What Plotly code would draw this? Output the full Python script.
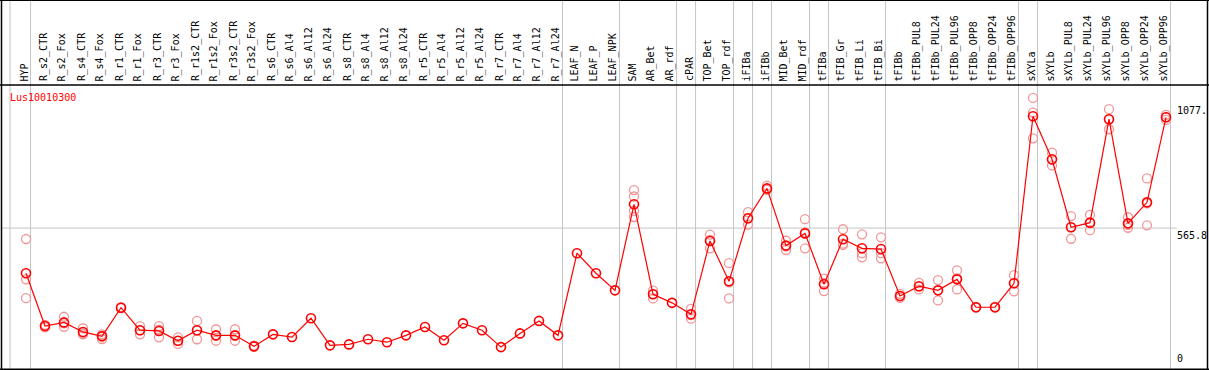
import plotly.graph_objects as go

# ---------------- data ----------------
gene = "Lus10010300"

categories = [
    "HYP", "R_s2_CTR", "R_s2_Fox", "R_s4_CTR", "R_s4_Fox", "R_r1_CTR", "R_r1_Fox",
    "R_r3_CTR", "R_r3_Fox", "R_r1s2_CTR", "R_r1s2_Fox", "R_r3s2_CTR", "R_r3s2_Fox",
    "R_s6_CTR", "R_s6_Al4", "R_s6_Al12", "R_s6_Al24", "R_s8_CTR", "R_s8_Al4",
    "R_s8_Al12", "R_s8_Al24", "R_r5_CTR", "R_r5_Al4", "R_r5_Al12", "R_r5_Al24",
    "R_r7_CTR", "R_r7_Al4", "R_r7_Al12", "R_r7_Al24", "LEAF_N", "LEAF_P", "LEAF_NPK",
    "SAM", "AR_Bet", "AR_rdf", "cPAR", "TOP_Bet", "TOP_rdf", "iFIBa", "iFIBb",
    "MID_Bet", "MID_rdf", "tFIBa", "tFIB_Gr", "tFIB_Li", "tFIB_Bi", "tFIBb",
    "tFIBb_PUL8", "tFIBb_PUL24", "tFIBb_PUL96", "tFIBb_OPP8", "tFIBb_OPP24",
    "tFIBb_OPP96", "sXYLa", "sXYLb", "sXYLb_PUL8", "sXYLb_PUL24", "sXYLb_PUL96",
    "sXYLb_OPP8", "sXYLb_OPP24", "sXYLb_OPP96",
]

mean_values = [
    381, 165, 180, 141, 123, 240, 148, 145, 105, 148, 127, 127, 82,
    131, 120, 197, 86, 90, 111, 99, 127, 161, 107, 176, 148,
    79, 135, 186, 127, 463, 381, 311,
    663, 295, 260, 213, 513, 348, 606, 728,
    494, 544, 336, 520, 483, 480, 288,
    328, 311, 356, 242, 242, 340,
    1023, 847, 569, 588, 1011, 585, 671, 1019,
]

replicates = [
    [521, 356, 279], [170, 160, 166], [203, 162, 176], [156, 135, 131], [131, 112, 126],
    [238, 242, 240], [165, 131, 147], [165, 119, 150], [119, 92, 104], [186, 111, 146],
    [152, 105, 125], [152, 105, 125], [82, 80, 85],
    [], [], [], [], [], [], [], [], [], [], [], [], [], [], [], [], [], [], [],
    [721, 695, 636, 611], [310, 278, 296], [], [235, 195, 210], [539, 483, 517],
    [422, 278, 344], [631, 580, 606], [739, 722, 725],
    [514, 476, 491], [602, 483, 548], [359, 308, 340], [561, 497, 502],
    [540, 463, 446], [528, 463, 442], [297, 280, 287],
    [342, 315, 326], [353, 270, 311], [393, 315, 360], [242, 241, 242], [242, 241, 242],
    [373, 307, 340],
    [1098, 1038, 933], [874, 822, 845], [615, 522, 570], [620, 557, 586],
    [1052, 970, 1010], [610, 567, 579], [769, 577, 667], [1029, 1008, 1019],
]

# index of the last category of each group (vertical separators)
group_ends = [0, 28, 31, 34, 35, 37, 38, 39, 41, 42, 45, 52, 53, 60]

axis_labels = [("1077.", 1077, "top"), ("565.8", 565.8, "top"), ("0", 0, "bottom")]
grid_value = 565.8

# ---------------- layout constants ----------------
W, H = 1209, 370
X_PX0, X_STEP = 26, 19          # pixel of first category, pixel step
Y_MIN, Y_MAX = -14.72, 1498.6   # y range mapping the full canvas
LABEL_BASE_PX = 83               # bottom of rotated category labels
HEADER_PX = 85                   # header separator line
SEP_OFFSET = 0.24

x_idx = list(range(len(categories)))

fig = go.Figure()

rx, ry = [], []
for i, reps in enumerate(replicates):
    for v in reps:
        rx.append(i)
        ry.append(v)

fig.add_trace(go.Scatter(
    x=rx, y=ry, mode="markers",
    marker=dict(symbol="circle-open", size=9, color="rgb(240,150,150)",
                line=dict(width=1.3, color="rgb(240,150,150)")),
    hoverinfo="skip", showlegend=False, cliponaxis=False,
))

fig.add_trace(go.Scatter(
    x=x_idx, y=mean_values, mode="lines+markers",
    line=dict(color="red", width=1.2),
    marker=dict(symbol="circle-open", size=9, color="red",
                line=dict(width=1.6, color="red")),
    showlegend=False, cliponaxis=False,
    text=categories, hovertemplate="%{text}: %{y}<extra></extra>",
))

shapes = []
gray = "rgb(196,196,196)"
# separator lines (full height)
sep_positions = [-0.84] + [g + SEP_OFFSET for g in group_ends]
for xs in sep_positions:
    shapes.append(dict(type="line", xref="x", yref="paper", x0=xs, x1=xs, y0=0, y1=1,
                       line=dict(color=gray, width=1), layer="below"))
# horizontal grid line
shapes.append(dict(type="line", xref="paper", yref="y", x0=1 / W, x1=1177 / W,
                   y0=grid_value, y1=grid_value, line=dict(color=gray, width=1), layer="below"))
# black frame
blk = dict(color="black", width=1.5)
hy = 1 - HEADER_PX / H
shapes += [
    dict(type="line", xref="paper", yref="paper", x0=0, x1=1, y0=hy, y1=hy, line=blk),
    dict(type="line", xref="paper", yref="paper", x0=0, x1=1, y0=0.999, y1=0.999, line=blk),
    dict(type="line", xref="paper", yref="paper", x0=0, x1=1, y0=0.002, y1=0.002, line=blk),
    dict(type="line", xref="paper", yref="paper", x0=1.5 / W, x1=1.5 / W, y0=0, y1=1, line=blk),
    dict(type="line", xref="paper", yref="paper", x0=1207.5 / W, x1=1207.5 / W, y0=0, y1=1, line=blk),
]

font = dict(family="DejaVu Sans Mono", size=10, color="black")
annotations = []
for i, c in enumerate(categories):
    annotations.append(dict(
        x=i - 0.08, xref="x", y=1 - LABEL_BASE_PX / H, yref="paper",
        text=c, textangle=-90, showarrow=False, xanchor="center", yanchor="bottom",
        font=font,
    ))
annotations.append(dict(
    x=8 / W, xref="paper", y=1 - 97 / H, yref="paper", text=gene, showarrow=False,
    xanchor="left", yanchor="middle", font=dict(family="DejaVu Sans Mono", size=10, color="red"),
))
for txt, val, anc in axis_labels:
    annotations.append(dict(
        x=1175 / W, xref="paper", y=val, yref="y", text=txt, showarrow=False,
        xanchor="left", yanchor=anc, font=dict(family="DejaVu Sans Mono", size=10, color="black"),
    ))

x_min = -X_PX0 / X_STEP
x_max = (W - X_PX0) / X_STEP
fig.update_layout(
    width=W, height=H,
    margin=dict(l=0, r=0, t=0, b=0, pad=0),
    paper_bgcolor="white", plot_bgcolor="white",
    xaxis=dict(range=[x_min, x_max], visible=False, fixedrange=True),
    yaxis=dict(range=[Y_MIN, Y_MAX], visible=False, fixedrange=True),
    shapes=shapes, annotations=annotations,
)

fig.write_html(
    "out.html",
    config={"displayModeBar": False},
    post_script="document.body.style.margin='0';document.body.style.overflow='hidden';",
)
